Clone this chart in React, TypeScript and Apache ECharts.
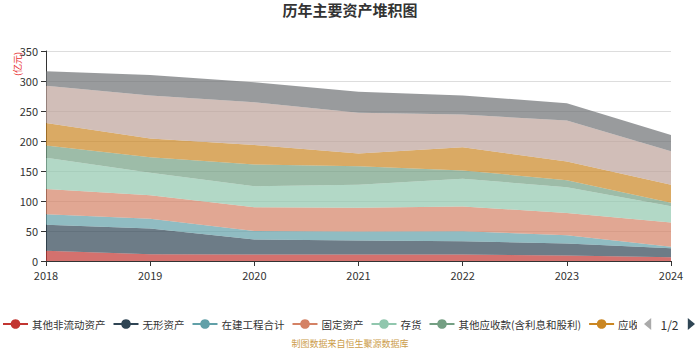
import React, { useEffect, useRef } from "react";
import * as echarts from "echarts";

const years = ["2018", "2019", "2020", "2021", "2022", "2023", "2024"];
const seriesNames = [
  "其他非流动资产",
  "无形资产",
  "在建工程合计",
  "固定资产",
  "存货",
  "其他应收款(含利息和股利)",
  "应收票据及应收账款",
  "交易性金融资产",
  "货币资金",
];
const otherNonCurrent = [17, 11.4, 10.8, 10.8, 10.8, 9.2, 6.4];
const intangible = [43.5, 42.6, 25, 23.2, 22.2, 19.8, 15];
const construction = [17.5, 16.4, 14.2, 15, 16.7, 14, 2.2];
const fixedAssets = [42.2, 39.3, 39.7, 39.6, 41.1, 37, 40.4];
const inventory = [51.7, 37.3, 35, 38.4, 46.2, 43, 27.4];
const otherReceivables = [20.6, 26, 36, 31, 14, 11.7, 5.6];
const notesReceivable = [37.7, 31, 32.8, 21, 38.7, 31.1, 30];
const tradingAssets = [61.7, 72, 71, 68, 54.3, 68.2, 56];
const cash = [24.4, 34, 33.3, 35, 32, 29, 27];
const seriesData = [
  otherNonCurrent,
  intangible,
  construction,
  fixedAssets,
  inventory,
  otherReceivables,
  notesReceivable,
  tradingAssets,
  cash,
];
const colors = [
  "#c23531",
  "#2f4554",
  "#61a0a8",
  "#d48265",
  "#91c7ae",
  "#749f83",
  "#ca8622",
  "#bda29a",
  "#6e7074",
];

const FONT = "'Noto Sans CJK SC', 'Noto Sans', sans-serif";

export default function App() {
  const ref = useRef<HTMLDivElement>(null);
  useEffect(() => {
    document.body.style.margin = "0";
    if (!ref.current) return;
    const chart = echarts.init(ref.current, undefined, { renderer: "svg" });
    chart.setOption({
      animation: false,
      color: colors,
      textStyle: { fontFamily: FONT },
      title: {
        text: "历年主要资产堆积图",
        left: "center",
        top: -3,
        textStyle: { fontSize: 15, fontWeight: "bold", color: "#333", fontFamily: FONT },
      },
      grid: { left: 46, right: 29, top: 51, bottom: 89 },
      legend: {
        type: "scroll",
        left: -3,
        right: 0,
        top: 313,
        padding: 5,
        itemWidth: 25,
        itemHeight: 12,
        itemGap: 7,
        lineStyle: { width: 2 },
        textStyle: { fontSize: 10.5, color: "#333", fontFamily: FONT, padding: [0, 0, 0, -1] },
        pageIconColor: "#2f4554",
        pageIconInactiveColor: "#aaa",
        pageIconSize: 12,
        pageButtonItemGap: 4,
        pageTextStyle: { fontSize: 12, color: "#333" },
        data: seriesNames,
      },
      xAxis: {
        type: "category",
        data: years,
        boundaryGap: false,
        axisLine: { lineStyle: { color: "#333" } },
        axisTick: { alignWithLabel: true },
        axisLabel: { fontSize: 11, color: "#333", margin: 8 },
      },
      yAxis: {
        type: "value",
        min: 0,
        max: 350,
        interval: 50,
        axisLine: { show: true, lineStyle: { color: "#333" } },
        axisTick: { show: true },
        axisLabel: { fontSize: 11, color: "#333" },
        splitLine: { lineStyle: { color: "#ddd" } },
      },
      graphic: [
        {
          type: "text",
          x: 13,
          y: 76,
          rotation: Math.PI / 2,
          style: { text: "(亿元)", fontSize: 9, fill: "#e83030", fontFamily: FONT },
        },
        {
          type: "text",
          left: "center",
          top: 339,
          style: { text: "制图数据来自恒生聚源数据库", fontSize: 9, fill: "#cc9d4b", fontFamily: FONT },
        },
      ],
      series: seriesNames.map((name, i) => ({
        name,
        type: "line",
        stack: "total",
        data: seriesData[i],
        symbol: "circle",
        symbolSize: 6,
        showSymbol: false,
        lineStyle: { width: 0 },
        areaStyle: { opacity: 0.7 },
      })),
    });
    return () => chart.dispose();
  }, []);
  return <div ref={ref} style={{ width: 700, height: 350 }} />;
}
